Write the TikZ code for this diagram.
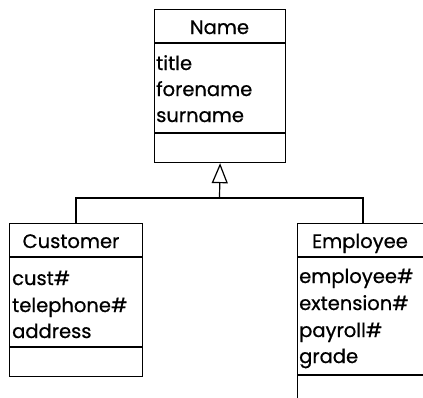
\documentclass[tikz,border=0pt]{standalone}
\usepackage{fontspec}
\setmainfont{Poppins}[FakeBold=0.7]
\usetikzlibrary{arrows.meta}
\begin{document}
\begin{tikzpicture}[x=1pt,y=-1pt,
  classbox/.style={draw,line width=1.2pt,rectangle,inner sep=0pt,anchor=north west},
  divider/.style={line width=1.2pt},
  hdr/.style={anchor=base,inner sep=0pt,font=\fontsize{19.5}{26}\selectfont},
  attr/.style={anchor=base west,inner sep=0pt,font=\fontsize{19.5}{26}\selectfont},
  link/.style={line width=1.2pt},
  inherit/.style={line width=1.2pt,-{Triangle[open,length=20pt,width=16pt,line width=1.2pt]}}]
\useasboundingbox (0,0) rectangle (423,397);
\clip (0,0) rectangle (423,397);
% Name class
\node[classbox,minimum width=131pt,minimum height=153pt] (name) at (154,9) {};
\draw[divider] (154,43) -- (285,43);
\draw[divider] (154,133) -- (285,133);
\node[hdr] (nameT) at (219.5,34) {Name};
\node[attr] (n1) at (156,70) {title};
\node[attr] (n2) at (156,96) {forename};
\node[attr] (n3) at (156,122) {surname};
% Customer class
\node[classbox,minimum width=133pt,minimum height=153pt] (cust) at (9,223) {};
\draw[divider] (9,257) -- (142,257);
\draw[divider] (9,347) -- (142,347);
\node[hdr] (custT) at (71,248) {Customer};
\node[attr] (c1) at (12,285) {cust\#};
\node[attr] (c2) at (12,312) {telephone\#};
\node[attr] (c3) at (12,338) {address};
% Employee class
\node[classbox,minimum width=128pt,minimum height=200pt] (emp) at (297,223) {};
\draw[divider] (297,257) -- (425,257);
\draw[divider] (297,375) -- (425,375);
\node[hdr] (empT) at (360,248) {Employee};
\node[attr] (e1) at (299,283) {employee\#};
\node[attr] (e2) at (299,310) {extension\#};
\node[attr] (e3) at (299,337) {payroll\#};
\node[attr] (e4) at (299,363) {grade};
% generalisation
\coordinate (join) at (219.5,198);
\draw[link] (cust.north -| 76,223) |- (join) -| (emp.north -| 363,223);
\draw[inherit] (join) -- (name.south);
\end{tikzpicture}
\end{document}
